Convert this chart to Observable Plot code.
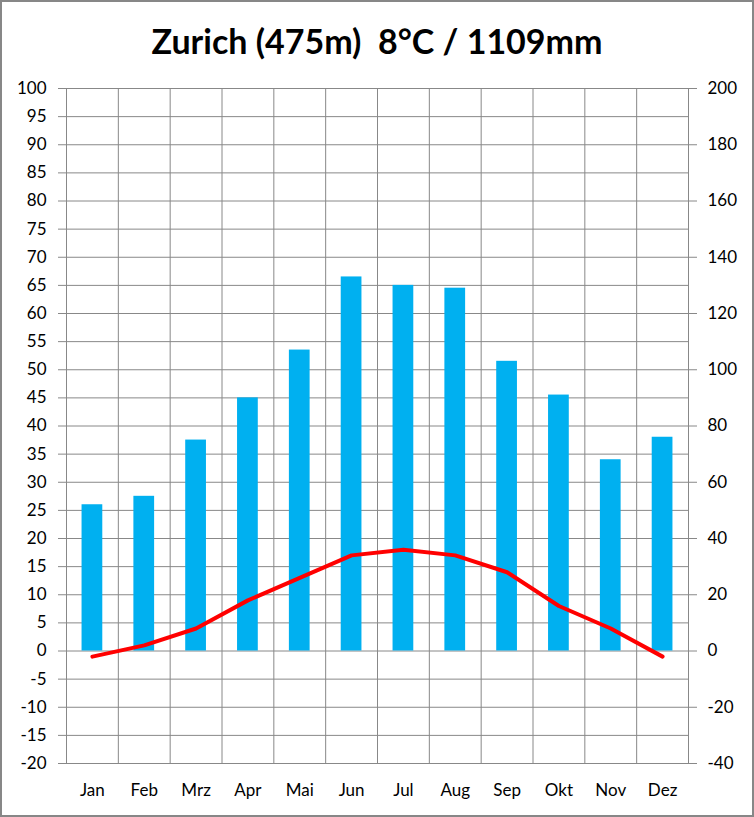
<!DOCTYPE html>
<html><head><meta charset="utf-8">
<script src="https://cdn.jsdelivr.net/npm/d3@7"></script>
<script src="https://cdn.jsdelivr.net/npm/@observablehq/plot@0.6"></script>
<style>
body{margin:0;background:#fff;}
#wrap{position:relative;width:754px;height:817px;overflow:hidden;font-family:Lato,sans-serif;background:#fff;}
#title{position:absolute;left:0;top:0;width:754px;height:80px;line-height:82px;text-align:center;font-weight:bold;font-size:34px;color:#000;white-space:pre;z-index:2;}
#border{position:absolute;left:0;top:0;width:754px;height:817px;box-sizing:border-box;border:2px solid #878787;pointer-events:none;z-index:3;}
#chart svg{display:block;}
</style></head><body>
<div id="wrap"><div id="chart"></div><div id="title">Zurich (475m)  8°C / 1109mm</div><div id="border"></div></div>
<script>
const months = ["Jan","Feb","Mrz","Apr","Mai","Jun","Jul","Aug","Sep","Okt","Nov","Dez"];
const temperature = [-1, 1, 4, 9, 13, 17, 18, 17, 14, 8, 4, -1];
const precipitation = [52, 55, 75, 90, 107, 133, 130, 129, 103, 91, 68, 76];
const tempTicks = d3.range(-20, 101, 5);
const precipTicks = d3.range(-40, 201, 20);
const mmPerDegree = 2;

const data = months.map((m, i) => ({month: m, i, temp: temperature[i], precip: precipitation[i]}));

const chart = Plot.plot({
  width: 754,
  height: 817,
  marginTop: 88,
  marginBottom: 54,
  marginLeft: 66,
  marginRight: 66,
  style: {fontFamily: "Lato, sans-serif", fontSize: "17px", color: "#000", background: "transparent"},
  x: {domain: [0, months.length]},
  y: {domain: [-20, 100]},
  marks: [
    Plot.ruleY(tempTicks, {stroke: "#888", strokeWidth: 1}),
    Plot.ruleX(d3.range(0, months.length + 1), {stroke: "#888", strokeWidth: 1}),
    Plot.rectY(data, {x1: d => d.i + 0.3, x2: d => d.i + 0.7, y1: 0, y2: d => d.precip / mmPerDegree, fill: "#00B0F0"}),
    Plot.lineY(data, {x: d => d.i + 0.5, y: "temp", stroke: "#FF0000", strokeWidth: 4}),
    Plot.frame({stroke: "#888"}),
    Plot.axisY({ticks: tempTicks, tickFormat: d => String(d), anchor: "left", tickSize: 8, tickPadding: 12, label: null, stroke: "#888", fill: "#000"}),
    Plot.axisY({ticks: precipTicks.map(v => v / mmPerDegree), tickFormat: d => String(d * mmPerDegree), anchor: "right", tickSize: 8, tickPadding: 11, label: null, stroke: "#888", fill: "#000"}),
    Plot.axisX({ticks: data.map(d => d.i + 0.5), tickFormat: v => months[Math.floor(v)], anchor: "bottom", tickSize: 0, tickPadding: 20, label: null, fill: "#000"})
  ]
});
document.getElementById("chart").appendChild(chart);
</script>
</body></html>
